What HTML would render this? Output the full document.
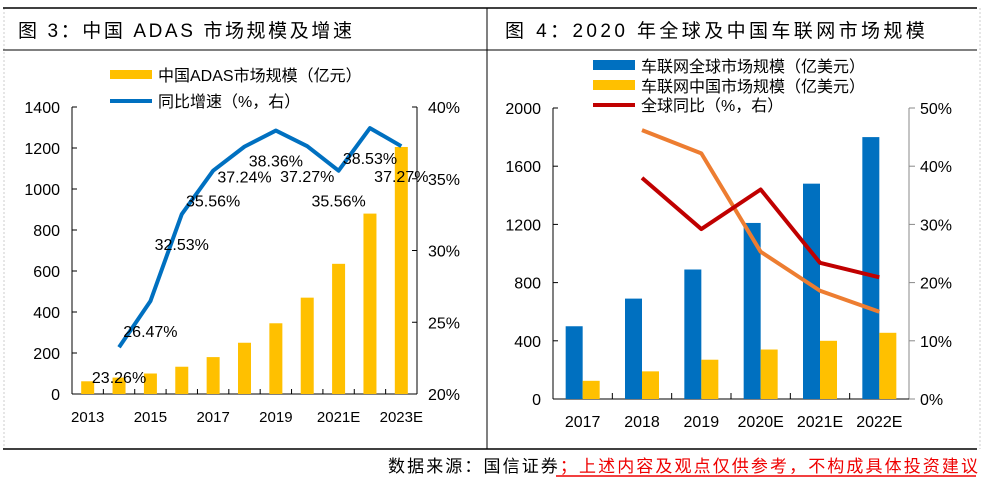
<!DOCTYPE html>
<html><head><meta charset="utf-8"><style>
body{margin:0;background:#fff;width:991px;height:481px;overflow:hidden;font-family:"Liberation Sans","Noto Sans CJK SC",sans-serif}
svg text{font-family:"Liberation Sans","Noto Sans CJK SC",sans-serif}
</style></head><body>
<svg width="991" height="481">
<line x1="4" y1="8" x2="4" y2="449" stroke="#ccc" stroke-dasharray="2,2"/>
<line x1="980" y1="8" x2="980" y2="449" stroke="#ccc" stroke-dasharray="2,2"/>
<line x1="3" y1="8" x2="977" y2="8" stroke="#000" stroke-width="1.5"/>
<line x1="3" y1="50" x2="977" y2="50" stroke="#000" stroke-width="1"/>
<line x1="3" y1="449" x2="977" y2="449" stroke="#000" stroke-width="1.5"/>
<line x1="487" y1="8" x2="487" y2="449" stroke="#000"/>
<text x="18" y="37" font-size="19" letter-spacing="2.6">图 3：中国 ADAS 市场规模及增速</text>
<text x="505" y="37" font-size="19" letter-spacing="3.4">图 4：2020 年全球及中国车联网市场规模</text>
<text x="388" y="472" font-size="17" letter-spacing="2.1">数据来源：国信证券<tspan fill="#e00">；上述内容及观点仅供参考，不构成具体投资建议</tspan></text>
<line x1="556" y1="476" x2="976" y2="476" stroke="#e00" stroke-width="1.5"/>
<g id="left"></g>
<g id="right"></g>
</svg>
<script>
const adasYears=["2013","2014","2015","2016","2017","2018","2019","2020","2021E","2022E","2023E"];
const adasSize=[62,80,100,133,180,250,345,470,635,880,1205];
const adasGrowth=[null,23.26,26.47,32.53,35.56,37.24,38.36,37.27,35.56,38.53,37.27];
const adasLeftTicks=[0,200,400,600,800,1000,1200,1400];
const adasRightTicks=[20,25,30,35,40];
const iovYears=["2017","2018","2019","2020E","2021E","2022E"];
const iovGlobal=[500,690,890,1210,1480,1800];
const iovChina=[125,190,270,340,400,455];
const iovGlobalYoY=[null,38,29.2,36,23.4,20.9];
const iovChinaYoY=[null,46.2,42.2,25.3,18.6,15];
const iovLeftTicks=[0,400,800,1200,1600,2000];
const iovRightTicks=[0,10,20,30,40,50];
const NS="http://www.w3.org/2000/svg";
function mk(p,t,a,txt){const e=document.createElementNS(NS,t);for(const k in a)e.setAttribute(k,a[k]);if(txt!=null)e.textContent=txt;p.appendChild(e);return e;}
(function(){
const g=document.getElementById('left');
const x0=72,x1=417,yT=107,yB=394,n=adasYears.length,cw=(x1-x0)/n;
const yL=v=>yB-(v/1400)*(yB-yT);
const yR=v=>yB-((v-20)/20)*(yB-yT);
const cx=i=>x0+cw*(i+0.5);
mk(g,'line',{x1:x0,y1:yT,x2:x0,y2:yB,stroke:'#000'});
mk(g,'line',{x1:x1,y1:yT,x2:x1,y2:yB,stroke:'#000'});
mk(g,'line',{x1:x0,y1:yB,x2:x1,y2:yB,stroke:'#000'});
adasLeftTicks.forEach(v=>{mk(g,'line',{x1:x0,y1:yL(v),x2:x0+5,y2:yL(v),stroke:'#000'});
const t=mk(g,'text',{x:60,y:yL(v)+6,'font-size':16,'text-anchor':'end'},v);

});
adasRightTicks.forEach(v=>{mk(g,'line',{x1:x1-5,y1:yR(v),x2:x1,y2:yR(v),stroke:'#000'});
const t=mk(g,'text',{x:428,y:yR(v)+6,'font-size':16},v+'%');

});
for(let i=1;i<n;i++)mk(g,'line',{x1:x0+cw*i,y1:yB,x2:x0+cw*i,y2:yB-5,stroke:'#000'});
adasSize.forEach((v,i)=>{const r=mk(g,'rect',{x:cx(i)-6.5,y:yL(v),width:13,height:yB-yL(v),fill:'#FFC000'});

});
adasYears.forEach((y,i)=>{if(i%2===0){const t=mk(g,'text',{x:cx(i),y:422,'font-size':15,'text-anchor':'middle'},y);

}});
let d='';adasGrowth.forEach((v,i)=>{if(v!=null)d+=(d?'L':'M')+cx(i)+' '+yR(v);});
const p=mk(g,'path',{d:d,fill:'none',stroke:'#0070C0','stroke-width':4,'stroke-linejoin':'round'});


adasGrowth.forEach((v,i)=>{if(v!=null){const t=mk(g,'text',{x:cx(i),y:yR(v)+36,'font-size':16,'text-anchor':'middle'},v.toFixed(2)+'%');

}});
const l1=mk(g,'rect',{x:110,y:70,width:42,height:9,fill:'#FFC000'});


mk(g,'text',{x:158,y:81,'font-size':16},'中国ADAS市场规模（亿元）');
const l2=mk(g,'line',{x1:110,y1:101,x2:152,y2:101,stroke:'#0070C0','stroke-width':4});


mk(g,'text',{x:158,y:107,'font-size':16},'同比增速（%，右）');
})();
(function(){
const g=document.getElementById('right');
const x0=553,x1=909,yT=108,yB=399,n=iovYears.length,cw=(x1-x0)/n;
const yL=v=>yB-(v/2000)*(yB-yT);
const yR=v=>yB-(v/50)*(yB-yT);
const cx=i=>x0+cw*(i+0.5);
mk(g,'line',{x1:x0,y1:yT,x2:x0,y2:yB,stroke:'#000'});
mk(g,'line',{x1:x1,y1:yT,x2:x1,y2:yB,stroke:'#888'});
mk(g,'line',{x1:x0,y1:yB,x2:x1,y2:yB,stroke:'#000'});
iovLeftTicks.forEach(v=>{mk(g,'line',{x1:x0,y1:yL(v),x2:x0+5,y2:yL(v),stroke:'#000'});
const t=mk(g,'text',{x:541,y:yL(v)+6,'font-size':16,'text-anchor':'end'},v);

});
iovRightTicks.forEach(v=>{mk(g,'line',{x1:x1,y1:yR(v),x2:x1+6,y2:yR(v),stroke:'#888'});
const t=mk(g,'text',{x:920,y:yR(v)+6,'font-size':16},v+'%');

});
for(let i=1;i<n;i++)mk(g,'line',{x1:x0+cw*i,y1:yB,x2:x0+cw*i,y2:yB-6,stroke:'#000'});
iovGlobal.forEach((v,i)=>{const r=mk(g,'rect',{x:cx(i)-17,y:yL(v),width:17,height:yB-yL(v),fill:'#0070C0'});

});
iovChina.forEach((v,i)=>{const r=mk(g,'rect',{x:cx(i),y:yL(v),width:17,height:yB-yL(v),fill:'#FFC000'});

});
iovYears.forEach((y,i)=>{const t=mk(g,'text',{x:cx(i),y:427,'font-size':16,'text-anchor':'middle'},y);

});
function line(arr,col,name){let d='';arr.forEach((v,i)=>{if(v!=null)d+=(d?'L':'M')+cx(i)+' '+yR(v);});
const p=mk(g,'path',{d:d,fill:'none',stroke:col,'stroke-width':4,'stroke-linejoin':'round'});

}
line(iovChinaYoY,'#ED7D31','china-yoy-line');
line(iovGlobalYoY,'#C00000','global-yoy-line');
mk(g,'rect',{x:593,y:60,width:42,height:10,fill:'#0070C0'});
mk(g,'text',{x:641,y:72,'font-size':16},'车联网全球市场规模（亿美元）');
mk(g,'rect',{x:593,y:80,width:42,height:10,fill:'#FFC000'});
mk(g,'text',{x:641,y:92,'font-size':16},'车联网中国市场规模（亿美元）');
mk(g,'line',{x1:593,y1:105,x2:635,y2:105,stroke:'#C00000','stroke-width':4});
mk(g,'text',{x:641,y:111,'font-size':16},'全球同比（%，右）');
})();
</script>
</body></html>
